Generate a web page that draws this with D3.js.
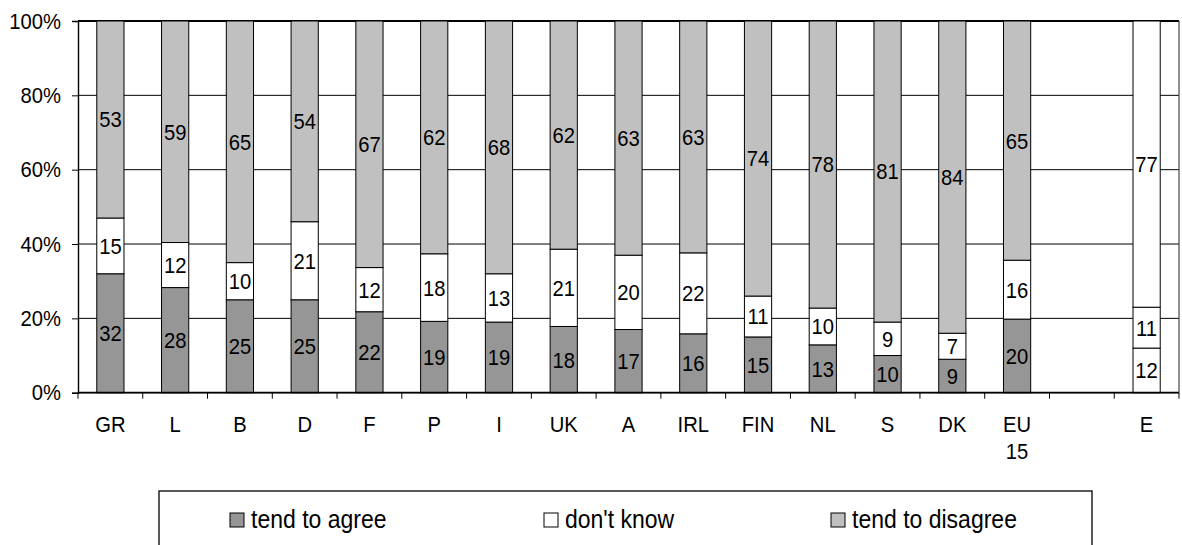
<!DOCTYPE html>
<html>
<head>
<meta charset="utf-8">
<script src="https://cdn.jsdelivr.net/npm/d3@7/dist/d3.min.js"></script>
<style>
  html, body { margin: 0; padding: 0; background: #fff; }
  svg { display: block; }
  text { font-family: "Liberation Sans", Arial, sans-serif; fill: #000; }
</style>
</head>
<body>
<svg id="chart" width="1182" height="545"></svg>
<script>
// ---------- data ----------
const categories = ["GR", "L", "B", "D", "F", "P", "I", "UK", "A", "IRL", "FIN", "NL", "S", "DK", "EU 15", "", "E"];
const agree    = [32, 28, 25, 25, 22, 19, 19, 18, 17, 16, 15, 13, 10, 9, 20, null, 12];
const dontKnow = [15, 12, 10, 21, 12, 18, 13, 21, 20, 22, 11, 10, 9, 7, 16, null, 11];
const disagree = [53, 59, 65, 54, 67, 62, 68, 62, 63, 63, 74, 78, 81, 84, 65, null, 77];
const seriesNames = ["tend to agree", "don't know", "tend to disagree"];
const yTicks = [0, 20, 40, 60, 80, 100];

// ---------- layout ----------
const svg = d3.select("#chart");
const pL = 78, pR = 1179, pT = 21, pB = 392.7;
const fills = ["#969696", "#ffffff", "#c0c0c0"];
const plainCats = ["E"]; // drawn without shading in the reference
const FS = 22, SQ = 0.92; // font size and horizontal squeeze of the reference's text

// place a text at (px,py) with the reference's slightly narrow glyphs
function put(sel, px, py) {
  sel.attr("transform", function(d, i) {
    const X = typeof px === "function" ? px(d, i) : px;
    const Y = typeof py === "function" ? py(d, i) : py;
    return `translate(${X},${Y}) scale(${SQ},1)`;
  });
}

const x = d3.scaleBand().domain(categories.map((c, i) => i)).range([pL, pR]).paddingInner(0.58).paddingOuter(0.29);
const xb = d3.scaleBand().domain(categories.map((c, i) => i)).range([pL, pR]);
const y = d3.scaleLinear().domain([0, 1]).range([pB, pT]);

const rows = categories.map((c, i) => ({ i, cat: c, a: agree[i], k: dontKnow[i], d: disagree[i] }));
const keys = ["a", "k", "d"];
const stacked = d3.stack().keys(keys).offset(d3.stackOffsetExpand)(rows.filter(r => r.a != null));

// gridlines
svg.append("g").selectAll("line").data(yTicks).join("line")
  .attr("x1", pL).attr("x2", pR)
  .attr("y1", t => y(t / 100)).attr("y2", t => y(t / 100))
  .attr("stroke", "#000").attr("stroke-width", t => t === 100 ? 1.8 : 1);
// right edge of plot area
svg.append("line").attr("x1", pR).attr("x2", pR).attr("y1", pT).attr("y2", pB)
  .attr("stroke", "#444").attr("stroke-width", 1.2);

// bars
const gBars = svg.append("g");
stacked.forEach((s, si) => {
  gBars.selectAll(null).data(s).join("rect")
    .attr("x", d => x(d.data.i))
    .attr("width", x.bandwidth())
    .attr("y", d => y(d[1]))
    .attr("height", d => y(d[0]) - y(d[1]))
    .attr("fill", d => plainCats.includes(d.data.cat) ? "#ffffff" : fills[si])
    .attr("stroke", "#000").attr("stroke-width", 1);
});
stacked.forEach((s, si) => {
  const t = gBars.selectAll(null).data(s).join("text")
    .attr("dy", "0.36em")
    .attr("text-anchor", "middle")
    .attr("font-size", FS)
    .text(d => d.data[keys[si]]);
  put(t, d => x(d.data.i) + x.bandwidth() / 2, d => (y(d[0]) + y(d[1])) / 2);
});

// y axis
const yAxis = d3.axisLeft(y).tickValues(yTicks.map(t => t / 100)).tickFormat(t => Math.round(t * 100) + "%").tickSize(6).tickPadding(12.5);
const gy = svg.append("g").attr("transform", `translate(${pL},0)`).call(yAxis);
gy.select(".domain").attr("stroke", "#000").attr("stroke-width", 1.4);
gy.selectAll(".tick line").attr("stroke", "#000");
gy.selectAll(".tick text").attr("font-size", FS).attr("font-family", "Liberation Sans, Arial, sans-serif")
  .attr("transform", `scale(${SQ},1)`);

// x axis
const gx = svg.append("g").attr("transform", `translate(0,${pB})`);
gx.append("line").attr("x1", pL).attr("x2", pR).attr("stroke", "#000").attr("stroke-width", 1.8);
const bounds = d3.range(categories.length + 1).map(i => i < categories.length ? xb(i) : pR);
gx.selectAll("line.tk").data(bounds).join("line").attr("class", "tk")
  .attr("x1", d => d).attr("x2", d => d).attr("y1", 0).attr("y2", 6)
  .attr("stroke", "#000");
const lbl = gx.selectAll("text.cat").data(categories).join("text").attr("class", "cat")
  .attr("text-anchor", "middle").attr("font-size", FS);
put(lbl, (c, i) => xb(i) + xb.bandwidth() / 2, 39.5);
lbl.each(function(c) {
  const parts = c.split(" ");
  d3.select(this).selectAll("tspan").data(parts).join("tspan")
    .attr("x", 0).attr("dy", (p, j) => j === 0 ? 0 : 26.5).text(p => p);
});

// legend
const lg = svg.append("g");
lg.append("rect").attr("x", 159).attr("y", 491).attr("width", 933).attr("height", 80)
  .attr("fill", "none").attr("stroke", "#000").attr("stroke-width", 1.3);
const legX = [230, 544, 831];
seriesNames.forEach((n, i) => {
  lg.append("rect").attr("x", legX[i]).attr("y", 513).attr("width", 14).attr("height", 14)
    .attr("fill", fills[i]).attr("stroke", "#000").attr("stroke-width", 1);
  const t = lg.append("text").attr("font-size", 25).text(n);
  put(t, legX[i] + 21, 528);
});
</script>
</body>
</html>
